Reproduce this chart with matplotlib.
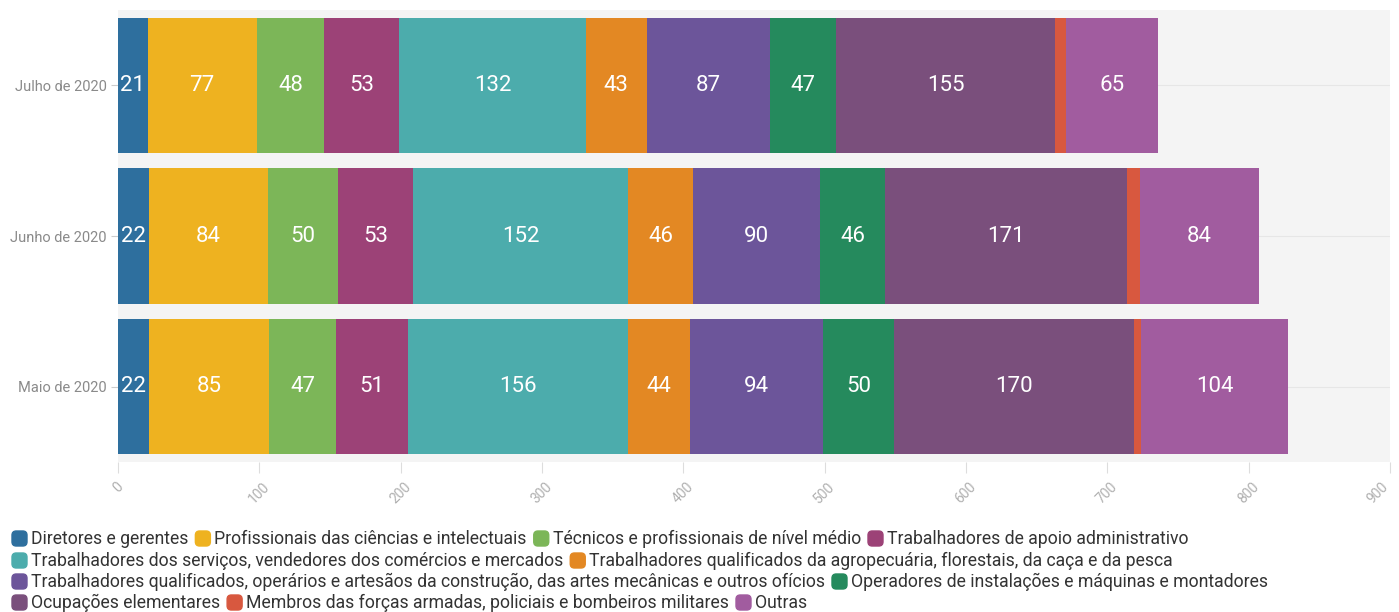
import matplotlib
matplotlib.use("Agg")
import matplotlib.pyplot as plt
from matplotlib.patches import FancyBboxPatch
import numpy as np

plt.rcParams['font.family'] = ['Roboto', 'DejaVu Sans']

# data
months = ['Julho de 2020', 'Junho de 2020', 'Maio de 2020']
categories = [
    'Diretores e gerentes',
    'Profissionais das ciências e intelectuais',
    'Técnicos e profissionais de nível médio',
    'Trabalhadores de apoio administrativo',
    'Trabalhadores dos serviços, vendedores dos comércios e mercados',
    'Trabalhadores qualificados da agropecuária, florestais, da caça e da pesca',
    'Trabalhadores qualificados, operários e artesãos da construção, das artes mecânicas e outros ofícios',
    'Operadores de instalações e máquinas e montadores',
    'Ocupações elementares',
    'Membros das forças armadas, policiais e bombeiros militares',
    'Outras',
]
# values per category: [Julho, Junho, Maio]
diretores = [21, 22, 22]
profissionais = [77, 84, 85]
tecnicos = [48, 50, 47]
apoio = [53, 53, 51]
servicos = [132, 152, 156]
agro = [43, 46, 44]
operarios = [87, 90, 94]
operadores = [47, 46, 50]
elementares = [155, 171, 170]
forcas = [8, 9, 5]
outras = [65, 84, 104]
series = [diretores, profissionais, tecnicos, apoio, servicos, agro,
          operarios, operadores, elementares, forcas, outras]
show_label = [True] * 9 + [False, True]
xticks = list(range(0, 901, 100))

colors = ['#2e6f9e', '#eeb220', '#7cb658', '#9c4277', '#4cacac', '#e38823',
          '#6c559a', '#258a5d', '#7a4f7c', '#d8583f', '#a15c9f']

fig = plt.figure(figsize=(13.99, 6.12), dpi=100)
ax = fig.add_axes([118 / 1399, 1 - 462 / 612, 1272 / 1399, 452 / 612])
ax.set_facecolor('#f4f4f4')

y = np.arange(len(months))
left = np.zeros(len(months))
for vals, col, lab in zip(series, colors, show_label):
    vals = np.array(vals, dtype=float)
    bars = ax.barh(y, vals, left=left, height=0.9, color=col, zorder=2)
    if lab:
        ax.bar_label(bars, labels=[str(int(v)) for v in vals], label_type='center',
                     color='white', fontsize=16)
    left += vals

ax.set_xlim(0, 900)
ax.set_ylim(2.5, -0.5)
ax.set_yticks(y)
ax.set_yticklabels(months, color='#8a8a8a', fontsize=10.5)
ax.set_xticks(xticks)
# last label is drawn separately so it stays inside the canvas
ax.set_xticklabels([str(v) for v in xticks[:-1]] + [''], rotation=45,
                   color='#b0b0b0', fontsize=10, ha='center', va='top')
ax.annotate(str(xticks[-1]), xy=(xticks[-1], 0), xycoords=('data', 'axes fraction'),
            xytext=(1, -13), textcoords='offset points', rotation=45,
            ha='right', va='top', color='#b0b0b0', fontsize=10)
ax.tick_params(axis='y', length=5, color='#cccccc', pad=3)
ax.tick_params(axis='x', length=8, color='#dddddd', pad=5)
ax.grid(axis='y', color='#e6e6e6', linewidth=0.8, zorder=1)
for s in ax.spines.values():
    s.set_visible(False)

# flowing legend
rows = [[0, 1, 2, 3], [4, 5], [6, 7], [8, 9, 10]]
row_y = [539, 561, 582, 603]
fig.canvas.draw()
renderer = fig.canvas.get_renderer()
for r, yy in zip(rows, row_y):
    x = 12
    for i in r:
        sw = FancyBboxPatch((x / 1399, 1 - (yy + 7) / 612), 15 / 1399, 15 / 612,
                            boxstyle='round,pad=0,rounding_size=0.003',
                            transform=fig.transFigure, color=colors[i],
                            mutation_aspect=1399 / 612)
        fig.patches.append(sw)
        t = fig.text((x + 19) / 1399, 1 - yy / 612, categories[i], fontsize=12.7,
                     color='#333333', va='center', ha='left')
        w = t.get_window_extent(renderer).width
        x += 19 + w + 7

fig.savefig('out.png', dpi=100, facecolor='white')
